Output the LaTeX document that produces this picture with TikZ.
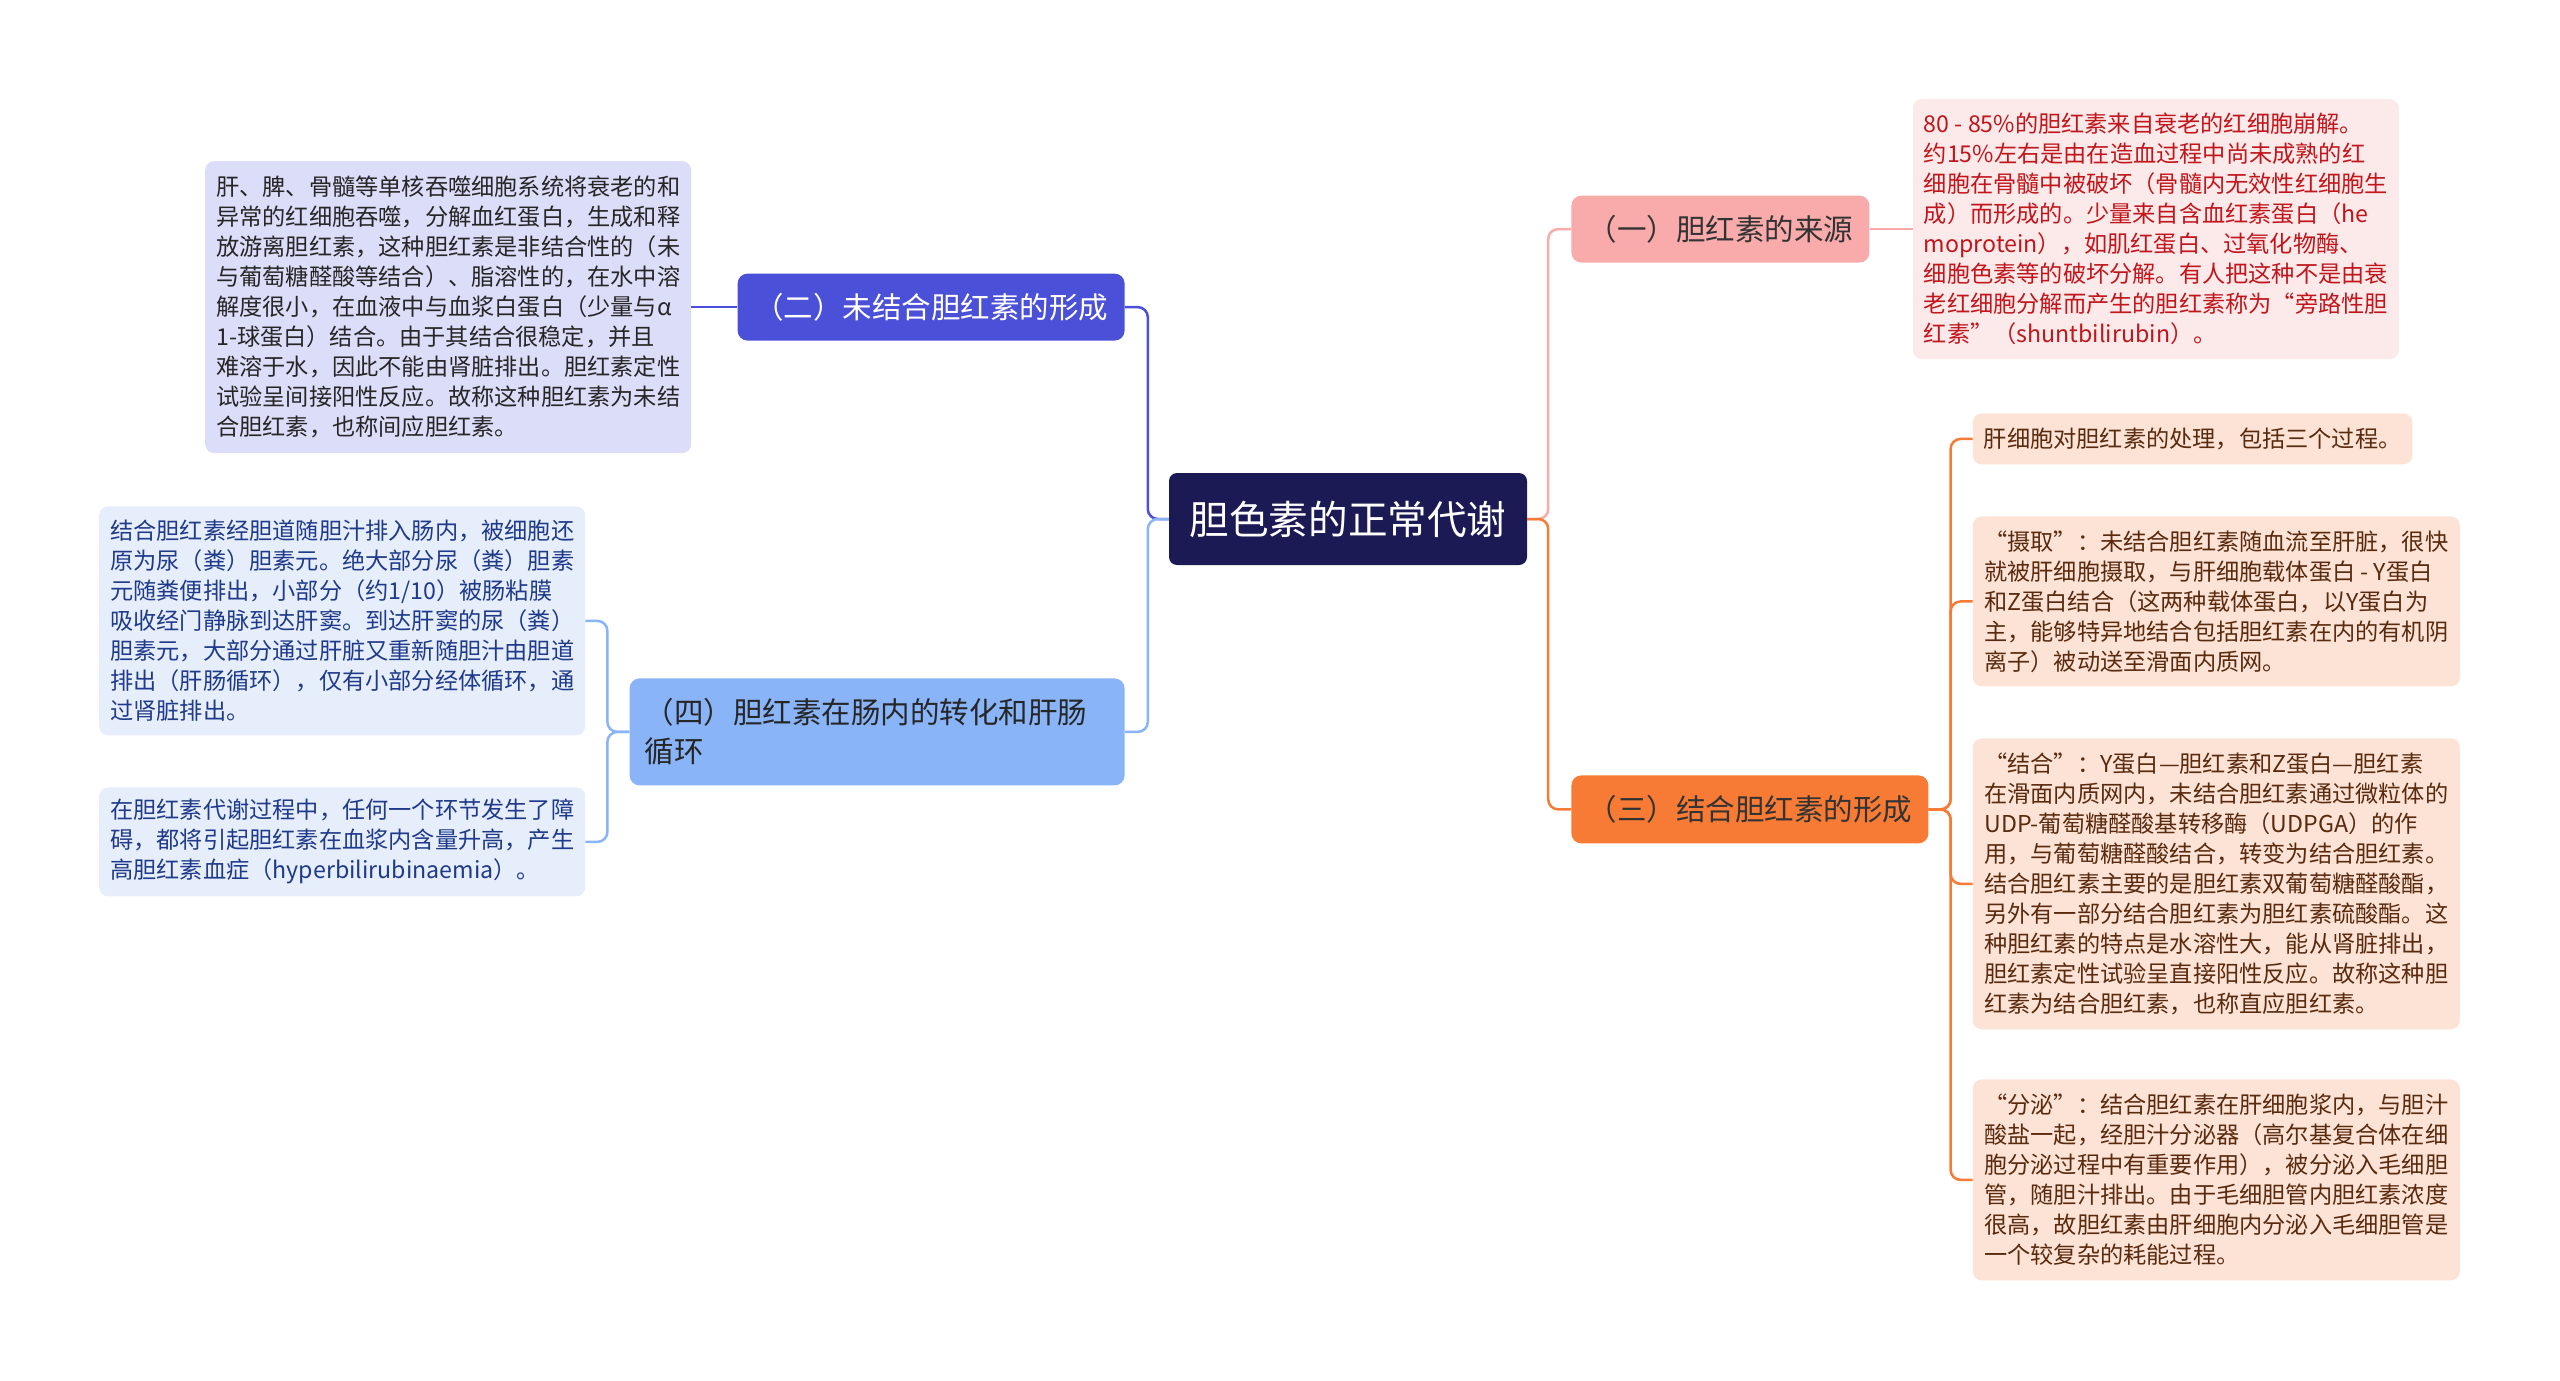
\documentclass[tikz,border=0pt]{standalone}
\usepackage{fontspec}
\setmainfont{Noto Sans CJK SC}
\usepackage{xcolor}
\usetikzlibrary{positioning}

\definecolor{rootblue}{HTML}{1C1A55}
\definecolor{twoblue}{HTML}{4B50D8}
\definecolor{twopale}{HTML}{DCDDF8}
\definecolor{fourblue}{HTML}{8AB4F8}
\definecolor{fourpale}{HTML}{E7EEFB}
\definecolor{fourtext}{HTML}{1F3A8A}
\definecolor{onepink}{HTML}{F9AAAA}
\definecolor{onepale}{HTML}{FCE9E9}
\definecolor{onetext}{HTML}{C0161C}
\definecolor{threeorange}{HTML}{F77B35}
\definecolor{threepale}{HTML}{FCE3D6}
\definecolor{threetext}{HTML}{5A2A0E}

\begin{document}
\begin{tikzpicture}[
	x=1pt, y=-1pt,
	topic/.style={
		rectangle,
		rounded corners=10pt,
		font=\fontsize{29.5}{39}\selectfont,
		minimum height=67pt
	},
	detail/.style={
		rectangle,
		rounded corners=9pt,
		align=left,
		inner xsep=11pt,
		font=\fontsize{23.2}{30}\selectfont
	},
	link/.style={
		line width=2.5pt,
		rounded corners=10pt
	}
	]
	\useasboundingbox (0,0) rectangle (2560,1381);
	
	\node (root) [fill=rootblue, text=white, rounded corners=8pt, minimum width=358pt, minimum height=92pt, font=\fontsize{39.6}{44}\selectfont] at (1348,519) {胆色素的正常代谢};
	
	% left branches
	\node (unbound) [topic, fill=twoblue, text=white, minimum width=387pt, above left=132pt and 44pt of root] {（二）未结合胆红素的形成};
	\node (gut) [topic, fill=fourblue, text=black!85, text width=465pt, align=left, inner xsep=15pt, minimum height=107pt, below left=113pt and 44pt of root] {（四）胆红素在肠内的转化和肝肠\\循环};
	\draw[link, twoblue] (root.west) -- ++(-21pt,0) |- (unbound.east);
	\draw[link, fourblue] (root.west) -- ++(-21pt,0) |- (gut.east);
	
	% right branches
	\node (source) [topic, fill=onepink, text=black!80, minimum width=298pt, above right=210pt and 44pt of root] {（一）胆红素的来源};
	\node (bound) [topic, fill=threeorange, text=black!80, minimum width=357pt, minimum height=68pt, below right=210pt and 44pt of root] {（三）结合胆红素的形成};
	\draw[link, onepink] (root.east) -- ++(21pt,0) |- (source.west);
	\draw[link, threeorange] (root.east) -- ++(21pt,0) |- (bound.west);
	
	% details of (二)
	\node (unbound_text) [detail, fill=twopale, text=black!85, minimum width=486pt, minimum height=292pt, left=46pt of unbound] {肝、脾、骨髓等单核吞噬细胞系统将衰老的和\\
异常的红细胞吞噬，分解血红蛋白，生成和释\\
放游离胆红素，这种胆红素是非结合性的（未\\
与葡萄糖醛酸等结合）、脂溶性的，在水中溶\\
解度很小，在血液中与血浆白蛋白（少量与α\\
1-球蛋白）结合。由于其结合很稳定，并且\\
难溶于水，因此不能由肾脏排出。胆红素定性\\
试验呈间接阳性反应。故称这种胆红素为未结\\
合胆红素，也称间应胆红素。};
	\draw[link, twoblue] (unbound.west) -- (unbound_text.east);
	
	% details of (四)
	\node (gut_cycle) [detail, fill=fourpale, text=fourtext, minimum width=486pt, minimum height=229pt, left=44pt of gut, yshift=111pt] {结合胆红素经胆道随胆汁排入肠内，被细胞还\\
原为尿（粪）胆素元。绝大部分尿（粪）胆素\\
元随粪便排出，小部分（约1/10）被肠粘膜\\
吸收经门静脉到达肝窦。到达肝窦的尿（粪）\\
胆素元，大部分通过肝脏又重新随胆汁由胆道\\
排出（肝肠循环），仅有小部分经体循环，通\\
过肾脏排出。};
	\node (gut_disorder) [detail, fill=fourpale, text=fourtext, minimum width=486pt, minimum height=109pt, left=44pt of gut, yshift=-110pt] {在胆红素代谢过程中，任何一个环节发生了障\\
碍，都将引起胆红素在血浆内含量升高，产生\\
高胆红素血症（hyperbilirubinaemia）。};
	\draw[link, fourblue] (gut.west) -- ++(-22pt,0) |- (gut_cycle.east);
	\draw[link, fourblue] (gut.west) -- ++(-22pt,0) |- (gut_disorder.east);
	
	% details of (一)
	\node (source_text) [detail, fill=onepale, text=onetext, minimum width=486pt, minimum height=260pt, right=43pt of source] {80 - 85\%的胆红素来自衰老的红细胞崩解。\\
约15\%左右是由在造血过程中尚未成熟的红\\
细胞在骨髓中被破坏（骨髓内无效性红细胞生\\
成）而形成的。少量来自含血红素蛋白（he\\
moprotein），如肌红蛋白、过氧化物酶、\\
细胞色素等的破坏分解。有人把这种不是由衰\\
老红细胞分解而产生的胆红素称为“旁路性胆\\
红素”（shuntbilirubin）。};
	\draw[link, onepink] (source.east) -- (source_text.west);
	
	% details of (三)
	\node (liver) [detail, fill=threepale, text=threetext, minimum height=51pt, right=44pt of bound, yshift=370.5pt] {肝细胞对胆红素的处理，包括三个过程。};
	\node (uptake) [detail, fill=threepale, text=threetext, minimum width=487pt, minimum height=170pt, right=44pt of bound, yshift=208pt] {“摄取”：未结合胆红素随血流至肝脏，很快\\
就被肝细胞摄取，与肝细胞载体蛋白 - Y蛋白\\
和Z蛋白结合（这两种载体蛋白，以Y蛋白为\\
主，能够特异地结合包括胆红素在内的有机阴\\
离子）被动送至滑面内质网。};
	\node (conjugate) [detail, fill=threepale, text=threetext, minimum width=487pt, minimum height=291pt, right=44pt of bound, yshift=-74.5pt] {“结合”：Y蛋白—胆红素和Z蛋白—胆红素\\
在滑面内质网内，未结合胆红素通过微粒体的\\
UDP-葡萄糖醛酸基转移酶（UDPGA）的作\\
用，与葡萄糖醛酸结合，转变为结合胆红素。\\
结合胆红素主要的是胆红素双葡萄糖醛酸酯，\\
另外有一部分结合胆红素为胆红素硫酸酯。这\\
种胆红素的特点是水溶性大，能从肾脏排出，\\
胆红素定性试验呈直接阳性反应。故称这种胆\\
红素为结合胆红素，也称直应胆红素。};
	\node (secrete) [detail, fill=threepale, text=threetext, minimum width=487pt, minimum height=201pt, right=44pt of bound, yshift=-370.5pt] {“分泌”：结合胆红素在肝细胞浆内，与胆汁\\
酸盐一起，经胆汁分泌器（高尔基复合体在细\\
胞分泌过程中有重要作用），被分泌入毛细胆\\
管，随胆汁排出。由于毛细胆管内胆红素浓度\\
很高，故胆红素由肝细胞内分泌入毛细胆管是\\
一个较复杂的耗能过程。};
	\draw[link, threeorange] (bound.east) -- ++(22pt,0) |- (liver.west);
	\draw[link, threeorange] (bound.east) -- ++(22pt,0) |- (uptake.west);
	\draw[link, threeorange] (bound.east) -- ++(22pt,0) |- (conjugate.west);
	\draw[link, threeorange] (bound.east) -- ++(22pt,0) |- (secrete.west);
	
\end{tikzpicture}
\end{document}
